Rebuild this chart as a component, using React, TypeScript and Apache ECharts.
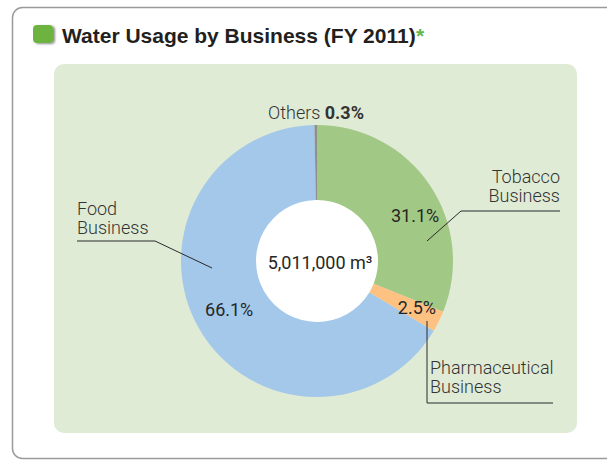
import React, { useEffect, useRef } from "react";
import * as echarts from "echarts";

// ---- data ----
const categories = ["Tobacco Business", "Pharmaceutical Business", "Food Business", "Others"];
const shares = [31.1, 2.5, 66.1, 0.3];
const calloutTexts = ["Tobacco\nBusiness", "Pharmaceutical\nBusiness", "Food\nBusiness", "Others"];
const totalLabel = "5,011,000 m³";
const titleText = "Water Usage by Business (FY 2011)";

// ---- styles / layout ----
const sliceColors = ["#a1c985", "#fdc182", "#a3c8ea", "#8f8f8f"];
const CENTER: [number, number] = [317, 261];
const RADIUS: [number, number] = [61, 136];
const callouts: any[] = [
  { x: 560, y: 205, align: "right", line: [[427, 241], [461, 211], [560, 211]] },
  { x: 430, y: 396, align: "left", line: [[427, 321], [427, 403], [553, 403]] },
  { x: 77, y: 237, align: "left", line: [[212, 268], [155, 241], [77, 241]] },
  { x: 316, y: 112, align: "center", vAlign: "middle", line: null },
];
const insideOffsets = [[14, 11], [9, 1], [0, -2], [0, 0]];
const LABEL_FONT = "Roboto";

export default function App() {
  const ref = useRef<HTMLDivElement>(null);
  useEffect(() => {
    if (!ref.current) return;
    const chart = echarts.init(ref.current, undefined, { renderer: "svg" });
    chart.setOption({
      animation: false,
      backgroundColor: "#ffffff",
      graphic: [
        {
          type: "rect",
          z: 0,
          shape: { x: 12.5, y: 7.5, width: 640, height: 451, r: 10 },
          style: { fill: "#ffffff", stroke: "#9a9a9a", lineWidth: 1.5 },
        },
        {
          type: "rect",
          z: 1,
          shape: { x: 54, y: 64, width: 523, height: 369, r: 10 },
          style: { fill: "#e0ebd6" },
        },
        {
          type: "circle",
          z: 1,
          shape: { cx: CENTER[0], cy: CENTER[1], r: RADIUS[0] + 1 },
          style: { fill: "#ffffff" },
        },
        {
          type: "rect",
          z: 2,
          shape: { x: 33, y: 25, width: 20, height: 18, r: 4 },
          style: {
            fill: "#6cb33f",
            shadowBlur: 2,
            shadowOffsetX: 2,
            shadowOffsetY: 1,
            shadowColor: "rgba(0,0,0,0.45)",
          },
        },
        {
          type: "text",
          z: 2,
          x: 62,
          y: 35,
          style: {
            text: "{t|" + titleText + "}{a|*}",
            verticalAlign: "middle",
            rich: {
              t: { fontFamily: "Liberation Sans", fontWeight: "bold", fontSize: 21, fill: "#231f20" },
              a: { fontFamily: "Liberation Sans", fontWeight: "bold", fontSize: 21, fill: "#5cb84a" },
            },
          },
        },
        {
          type: "text",
          z: 5,
          x: CENTER[0] + 3,
          y: CENTER[1] + 1,
          style: {
            text: totalLabel,
            align: "center",
            verticalAlign: "middle",
            fontFamily: LABEL_FONT,
            fontWeight: 400,
            fontSize: 18,
            fill: "#262626",
          },
        },
      ],
      series: [
        {
          type: "pie",
          z: 3,
          silent: true,
          center: CENTER,
          radius: RADIUS,
          startAngle: 90,
          clockwise: true,
          avoidLabelOverlap: false,
          emphasis: { disabled: true },
          data: categories.map((c, i) => ({
            name: c,
            value: shares[i],
            itemStyle: { color: sliceColors[i] },
            label: i === 3 ? { show: false } : undefined,
          })),
          label: {
            show: true,
            position: "inside",
            formatter: (p: any) => p.value.toFixed(1) + "%",
            fontFamily: LABEL_FONT,
            fontWeight: 400,
            fontSize: 18,
            color: "#262626",
          },
          labelLine: { show: false },
          labelLayout: (p: any) => {
            const o = insideOffsets[p.dataIndex];
            const r = p.labelRect;
            return {
              x: r.x + r.width / 2 + o[0],
              y: r.y + r.height / 2 + o[1],
              align: "center",
              verticalAlign: "middle",
            };
          },
        },
        {
          type: "pie",
          z: 4,
          silent: true,
          center: CENTER,
          radius: RADIUS,
          startAngle: 90,
          clockwise: true,
          emphasis: { disabled: true },
          itemStyle: { color: "rgba(0,0,0,0)" },
          data: categories.map((c, i) => ({
            name: c,
            value: shares[i],
            labelLine: i === 3 ? { show: false } : undefined,
          })),
          label: {
            show: true,
            position: "outside",
            overflow: "none",
            formatter: (p: any) =>
              p.dataIndex === 3
                ? calloutTexts[3] + " {b|" + p.value.toFixed(1) + "%}"
                : calloutTexts[p.dataIndex],
            fontFamily: LABEL_FONT,
            fontWeight: 300,
            fontSize: 18,
            lineHeight: 19,
            color: "#333333",
            rich: {
              b: { fontFamily: LABEL_FONT, fontSize: 18, fontWeight: "bold", color: "#333333" },
            },
          },
          labelLine: { show: true, lineStyle: { color: "#2a2a2a", width: 1 } },
          labelLayout: (p: any) => {
            const c = callouts[p.dataIndex];
            const res: any = {
              x: c.x,
              y: c.y,
              width: 220,
              align: c.align,
              verticalAlign: c.vAlign || "bottom",
            };
            if (c.line) res.labelLinePoints = c.line;
            return res;
          },
        },
      ],
    });
    return () => chart.dispose();
  }, []);
  return (
    <div
      ref={ref}
      style={{ position: "absolute", left: 0, top: 0, width: 607, height: 460 }}
    />
  );
}
